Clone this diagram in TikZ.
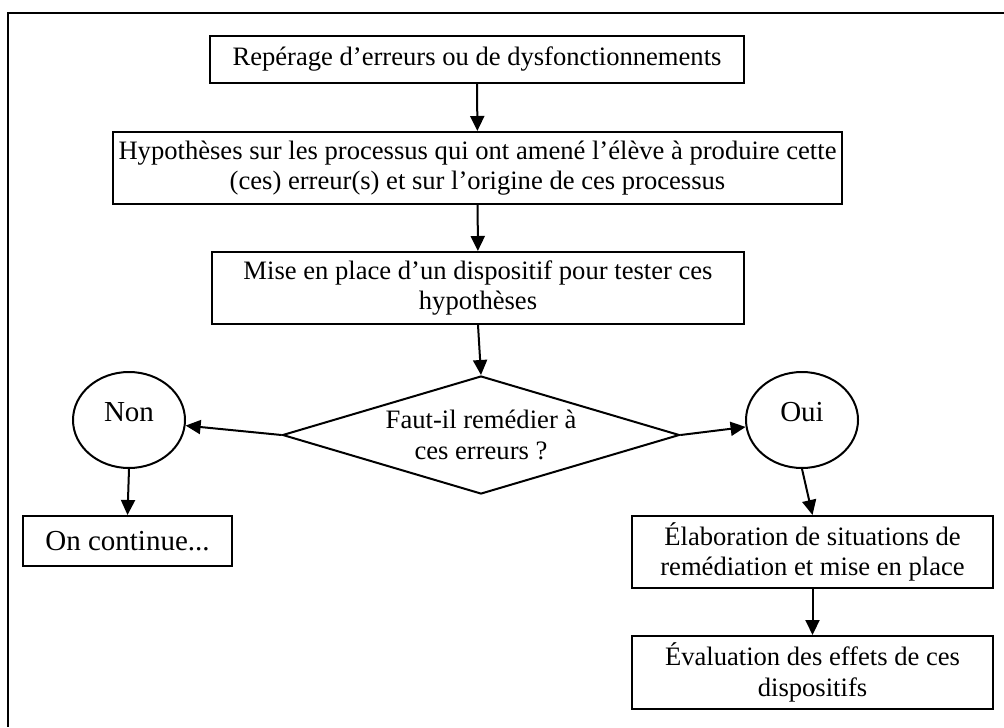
\documentclass[tikz,border=0pt]{standalone}
\usepackage{fontspec}
\setmainfont{Liberation Serif}
\usetikzlibrary{shapes.geometric,arrows.meta}
\begin{document}
\begin{tikzpicture}[x=0.5pt,y=-0.5pt,line width=1pt,
        >={Triangle[length=7.5pt,width=7pt]},
        font=\fontsize{13.3}{15.3}\selectfont]
    \tikzstyle{etape}=[draw,rectangle,align=center,inner sep=0pt]
    \tikzstyle{reponse}=[draw,ellipse,minimum width=56pt,minimum height=48pt,
        inner sep=0pt,text depth=8pt,font=\fontsize{14.5}{17}\selectfont]
    \useasboundingbox (0,0) rectangle (1004,727);
    \draw (1004,13) -- (8,13) -- (8,727);
    \node[etape,minimum width=267pt,minimum height=23.5pt] (rep) at (477,59.5)
        {Repérage d’erreurs ou de dysfonctionnements};
    \node[etape,minimum width=364.5pt,minimum height=36pt] (hyp) at (477.5,168)
        {Hypothèses sur les processus qui ont amené l’élève à produire cette\\(ces) erreur(s) et sur l’origine de ces processus};
    \node[etape,minimum width=266pt,minimum height=36pt] (disp) at (478,288)
        {Mise en place d’un dispositif pour tester ces\\hypothèses};
    \node[draw,diamond,aspect=3.36,minimum width=198.5pt,minimum height=59pt,
        inner sep=0pt,align=center] (test) at (481,435)
        {Faut-il remédier à\\ces erreurs ?};
    \node[reponse] (non) at (129,420) {Non};
    \node[reponse] (oui) at (802,420) {Oui};
    \node[etape,minimum width=104.5pt,minimum height=25pt,
        font=\fontsize{14.5}{17}\selectfont] (cont) at (127.5,541)
        {On continue...};
    \node[etape,minimum width=180.5pt,minimum height=36pt] (rem) at (812.5,552)
        {Élaboration de situations de\\remédiation et mise en place};
    \node[etape,minimum width=180.5pt,minimum height=36.5pt] (eval) at (812.5,672.5)
        {Évaluation des effets de ces\\dispositifs};
    \draw[->] (rep) -- (hyp);
    \draw[->] (hyp) -- (disp);
    \draw[->] (disp.south) -- (test.north);
    \draw[->] (test.west) -- (non);
    \draw[->] (test.east) -- (oui);
    \draw[->] (non.south) -- (cont.north);
    \draw[->] (oui.south) -- (rem.north);
    \draw[->] (rem) -- (eval);
\end{tikzpicture}
\end{document}
